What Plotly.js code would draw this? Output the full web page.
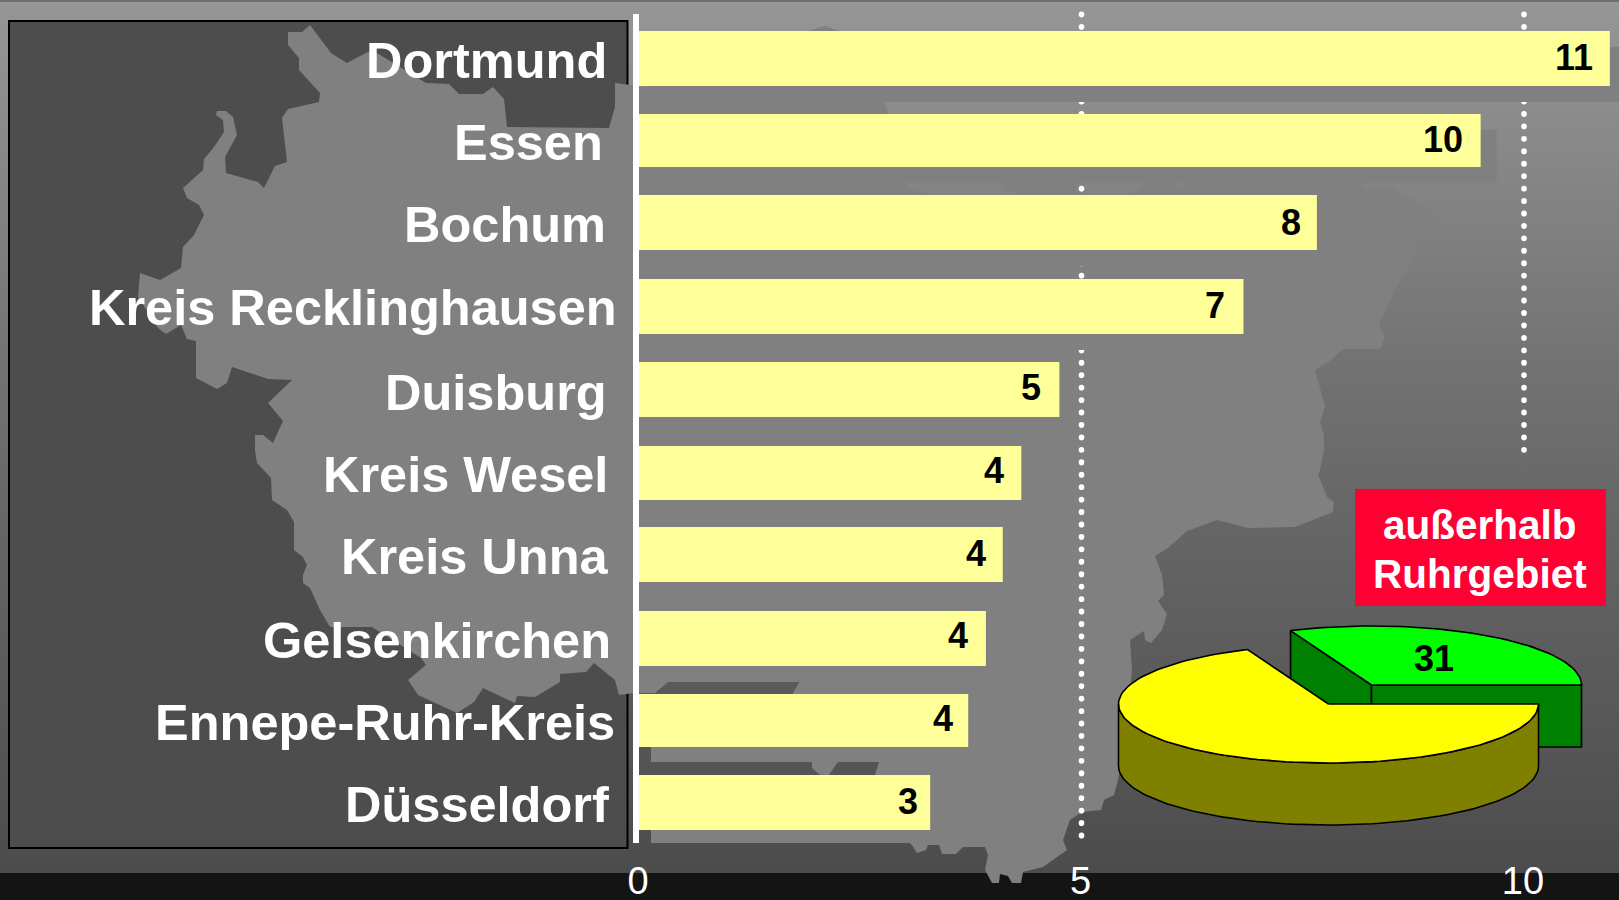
<!DOCTYPE html>
<html>
<head>
<meta charset="utf-8">
<script src="https://cdn.plot.ly/plotly-3.0.1.min.js"></script>
<style>
html,body{margin:0;padding:0;width:1619px;height:900px;overflow:hidden;background:linear-gradient(#969696 0px,#858585 180px,#727272 370px,#6a6a6a 470px,#4c4c4c 873px);}
#chart{width:1619px;height:900px;}
.shapelayer path{stroke-linecap:round;}
</style>
</head>
<body>
<div id="chart"></div>
<script>
// ---- data ----
const cities = ["Dortmund","Essen","Bochum","Kreis Recklinghausen","Duisburg","Kreis Wesel","Kreis Unna","Gelsenkirchen","Ennepe-Ruhr-Kreis","Düsseldorf"];
const barLengths = [10.97,9.51,7.66,6.83,4.75,4.32,4.11,3.92,3.72,3.29];
const valueLabels = ["11","10","8","7","5","4","4","4","4","3"];
const tickValues = [0,5,10];
const pieValues = [31.3,68.7];
const pieLabelText = "31";
const boxLines = ["außerhalb","Ruhrgebiet"];

// ---- layout geometry (pixels of the 1619x900 page) ----
const L=639,R=1619,T=14,B=843;
const unitX=88.5, bandY=82.67, firstCentre=58.5;
const barStartPx=[639,639,639,639,639,634.5,634.5,634.5,636,636];
const barTopPx=[31,114,195,279,362,446,527,611,694,775];
const barBottomPx=[86,167,250,334,417,500,582,666,747,830];
const labelRightPx=[609,605,608,619,609,610,611,613,617,611];
const labelMidPx=[60,143,224,308,392,475,556,640,722,804];
const valueShiftPx=[-15,-16,-14,-16,-16,-15,-15,-16,-13,-10];
const shadowPx=[16,16,16,16,16,16,16,16,15,15];
const px=x=>(x-L)/(R-L), py=y=>1-(y-T)/(B-T);

const mapOutline=[[288,32],[302,32],[310,25],[331,53],[347,63],[362,55],[372,50],[413,75],[426,83],[449,84],[459,94],[483,94],[493,87],[504,99],[507,127],[609,128],[615,107],[615,83],[646,87],[700,70],[800,40],[808,31],[825,26],[840,31],[870,90],[884,102],[889,114],[905,183],[909,188],[931,195],[1017,195],[1004,190],[1004,175],[1076,175],[1076,190],[1088,195],[1128,195],[1146,183],[1174,183],[1179,188],[1183,183],[1190,175],[1355,175],[1362,183],[1363,189],[1393,188],[1417,202],[1433,215],[1446,229],[1413,232],[1415,253],[1407,270],[1398,283],[1379,325],[1385,338],[1380,349],[1343,349],[1330,361],[1315,370],[1325,406],[1320,423],[1324,435],[1324,450],[1320,470],[1318,475],[1327,497],[1334,502],[1333,512],[1295,527],[1248,528],[1217,520],[1187,531],[1168,548],[1155,556],[1162,575],[1164,595],[1158,601],[1167,614],[1162,630],[1151,643],[1145,640],[1144,631],[1130,640],[1132,670],[1125,740],[1118,780],[1114,795],[1104,800],[1101,810],[1082,812],[1070,820],[1063,840],[1067,850],[1043,867],[1023,872],[1021,883],[1012,883],[1008,876],[1000,874],[999,883],[992,883],[985,870],[988,855],[985,847],[963,847],[956,854],[942,854],[939,845],[928,845],[926,850],[917,853],[912,845],[905,840],[880,790],[875,775],[879,762],[885,750],[845,755],[838,762],[835,766],[829,775],[820,775],[812,768],[812,755],[793,693],[800,681],[790,670],[680,670],[668,682],[655,693],[634,693],[619,695],[615,680],[594,663],[586,672],[560,674],[560,682],[535,697],[517,696],[515,703],[483,688],[474,702],[457,713],[418,695],[408,680],[426,665],[421,658],[372,627],[330,627],[320,610],[310,588],[303,583],[303,575],[307,565],[303,557],[294,550],[294,522],[287,510],[272,500],[271,478],[257,463],[255,450],[255,435],[263,435],[273,443],[283,421],[268,403],[292,380],[268,379],[232,367],[227,383],[217,389],[196,378],[196,360],[196,341],[187,339],[181,325],[166,334],[158,328],[138,297],[140,273],[160,280],[181,268],[183,247],[194,235],[204,215],[199,205],[187,198],[183,188],[203,170],[204,159],[214,147],[224,132],[223,120],[216,115],[217,111],[226,111],[233,117],[237,135],[225,157],[226,173],[258,182],[264,188],[275,166],[287,162],[282,118],[288,109],[319,102],[320,93],[299,70],[299,58],[288,45]];
const mapPath='M'+mapOutline.map(p=>px(p[0]).toFixed(5)+','+py(p[1]).toFixed(5)).join('L')+'Z';

const rect=(x0,y0,x1,y1,fill,line)=>({type:'rect',xref:'paper',yref:'paper',layer:'below',x0:px(x0),x1:px(x1),y0:py(y0),y1:py(y1),fillcolor:fill,line:line||{width:0}});
const dots=(val,y0,y1)=>({type:'line',xref:'x',yref:'paper',layer:'below',x0:val,x1:val,y0:py(y0),y1:py(y1),line:{color:'#ffffff',width:5.6,dash:'0.3px,12.14px'}});

const shapes=[
  rect(0,0,1619,2,'#6e6e6e'),
  rect(0,873,1619,900,'#141414'),
  rect(9,21,627.5,848,'#4d4d4d',{color:'#000000',width:2}),
  {type:'path',xref:'paper',yref:'paper',layer:'below',path:mapPath,fillcolor:'#808080',line:{width:0}},
  dots(5,14.3,836),
  dots(10,14.3,451),
  rect(1355,489,1606,606,'#ff0033')
];

// ---- bars ----
const centres=cities.map((c,i)=>firstCentre+bandY*i);
const barWidths=barTopPx.map((t,i)=>(barBottomPx[i]-t)/bandY);
const barOffsets=barTopPx.map((t,i)=>(t-centres[i])/bandY);
const barBases=barStartPx.map(s=>(s-L)/unitX);
const barEnds=barLengths;
const traces=[
 {type:'bar',orientation:'h',y:cities,x:barEnds.map((v,i)=>v-barBases[i]),base:barBases.map((b,i)=>b+shadowPx[i]/unitX),
  width:barWidths,offset:barOffsets.map((o,i)=>o+shadowPx[i]/bandY),marker:{color:'#808080',line:{width:0}},cliponaxis:false,hoverinfo:'skip',showlegend:false},
 {type:'bar',orientation:'h',y:cities,x:barEnds.map((v,i)=>v-barBases[i]),base:barBases,
  width:barWidths,offset:barOffsets,marker:{color:'#ffff99',line:{width:0}},cliponaxis:false,hoverinfo:'skip',showlegend:false}
];

// ---- tilted pie, drawn through its own hidden axes (unit circle, squashed by axis scale) ----
const cxPx=1328.5,cyPx=704,rxPx=210,ryPx=59,depth=62/59;
const burst=[43/rxPx,19/ryPx];
const pieTotal=pieValues[0]+pieValues[1];
const splitDeg=pieValues[0]/pieTotal*360;
const arc=(a0,a1,dx,dy)=>{const n=Math.max(2,Math.round(Math.abs(a1-a0)/2));const xs=[],ys=[];
  for(let i=0;i<=n;i++){const a=(a0+(a1-a0)*i/n)*Math.PI/180;xs.push(Math.cos(a)+dx);ys.push(Math.sin(a)+dy);}return [xs,ys];};
const poly=(xs,ys,fill)=>({type:'scatter',mode:'lines',x:xs.concat([xs[0]]),y:ys.concat([ys[0]]),fill:'toself',fillcolor:fill,
  line:{color:'#000000',width:1.6},xaxis:'x2',yaxis:'y2',hoverinfo:'skip',showlegend:false});
const sp=Math.cos(splitDeg*Math.PI/180), ss=Math.sin(splitDeg*Math.PI/180);
const gx=burst[0],gy=burst[1];
traces.push(poly([gx,gx+sp,gx+sp,gx],[gy,gy+ss,gy+ss-depth,gy-depth],'#008000'));
traces.push(poly([gx,gx+1,gx+1,gx],[gy,gy,gy-depth,gy-depth],'#008000'));
{const a=arc(0,splitDeg,gx,gy);traces.push(poly([gx].concat(a[0]),[gy].concat(a[1]),'#00ff00'));}
{const a=arc(180,360,0,0);const xs=a[0].concat(a[0].slice().reverse());const ys=a[1].concat(a[1].slice().reverse().map(v=>v-depth));traces.push(poly(xs,ys,'#808000'));}
{const a=arc(splitDeg,360,0,0);traces.push(poly([0].concat(a[0]),[0].concat(a[1]),'#ffff00'));}

// ---- text ----
const FONT='"Liberation Sans",Arial,sans-serif';
const annotations=[];
cities.forEach((c,i)=>annotations.push({xref:'paper',yref:'paper',x:px(labelRightPx[i]),y:py(labelMidPx[i]),xanchor:'right',yanchor:'middle',showarrow:false,text:c,font:{family:FONT,size:50.5,color:'#ffffff',weight:700}}));
valueLabels.forEach((t,i)=>annotations.push({xref:'x',yref:'y',x:barEnds[i],y:i,xanchor:'right',yanchor:'middle',xshift:valueShiftPx[i],yshift:1.5,showarrow:false,text:t,font:{family:FONT,size:36,color:'#000000',weight:700}}));
annotations.push({xref:'x2',yref:'y2',x:(1434-cxPx)/rxPx,y:(cyPx-658)/ryPx,xanchor:'center',yanchor:'middle',showarrow:false,text:pieLabelText,font:{family:FONT,size:36,color:'#000000',weight:700}});
annotations.push({xref:'paper',yref:'paper',x:px(1480),y:py(525),xanchor:'center',yanchor:'middle',showarrow:false,text:boxLines[0],font:{family:FONT,size:40.5,color:'#ffffff',weight:700}});
annotations.push({xref:'paper',yref:'paper',x:px(1480),y:py(574),xanchor:'center',yanchor:'middle',showarrow:false,text:boxLines[1],font:{family:FONT,size:40.5,color:'#ffffff',weight:700}});

const box={x0:1100,x1:1600,y0:610,y1:840};
const layout={
  width:1619,height:900,margin:{l:L,r:1619-R,t:T,b:900-B,pad:0},autosize:false,
  paper_bgcolor:'rgba(0,0,0,0)',plot_bgcolor:'rgba(0,0,0,0)',barmode:'overlay',showlegend:false,
  xaxis:{range:[0,(R-L)/unitX],tickmode:'array',tickvals:tickValues,ticktext:tickValues.map(String),ticks:'',showgrid:false,zeroline:false,showline:false,
    tickfont:{family:FONT,size:38,color:'#ffffff'},ticklabelstandoff:12,ticklabelshift:-1,ticklabeloverflow:'allow'},
  yaxis:{type:'category',categoryorder:'array',categoryarray:cities,range:[(B-firstCentre)/bandY,(T-firstCentre)/bandY],showticklabels:false,ticks:'',showgrid:false,zeroline:false,
    showline:true,linecolor:'#ffffff',linewidth:6,layer:'below traces'},
  xaxis2:{domain:[px(box.x0),px(box.x1)],range:[(box.x0-cxPx)/rxPx,(box.x1-cxPx)/rxPx],anchor:'y2',visible:false},
  yaxis2:{domain:[py(box.y1),py(box.y0)],range:[(cyPx-box.y1)/ryPx,(cyPx-box.y0)/ryPx],anchor:'x2',visible:false},
  shapes:shapes,annotations:annotations
};
Plotly.newPlot('chart',traces,layout,{staticPlot:true,displayModeBar:false});
</script>
</body>
</html>
